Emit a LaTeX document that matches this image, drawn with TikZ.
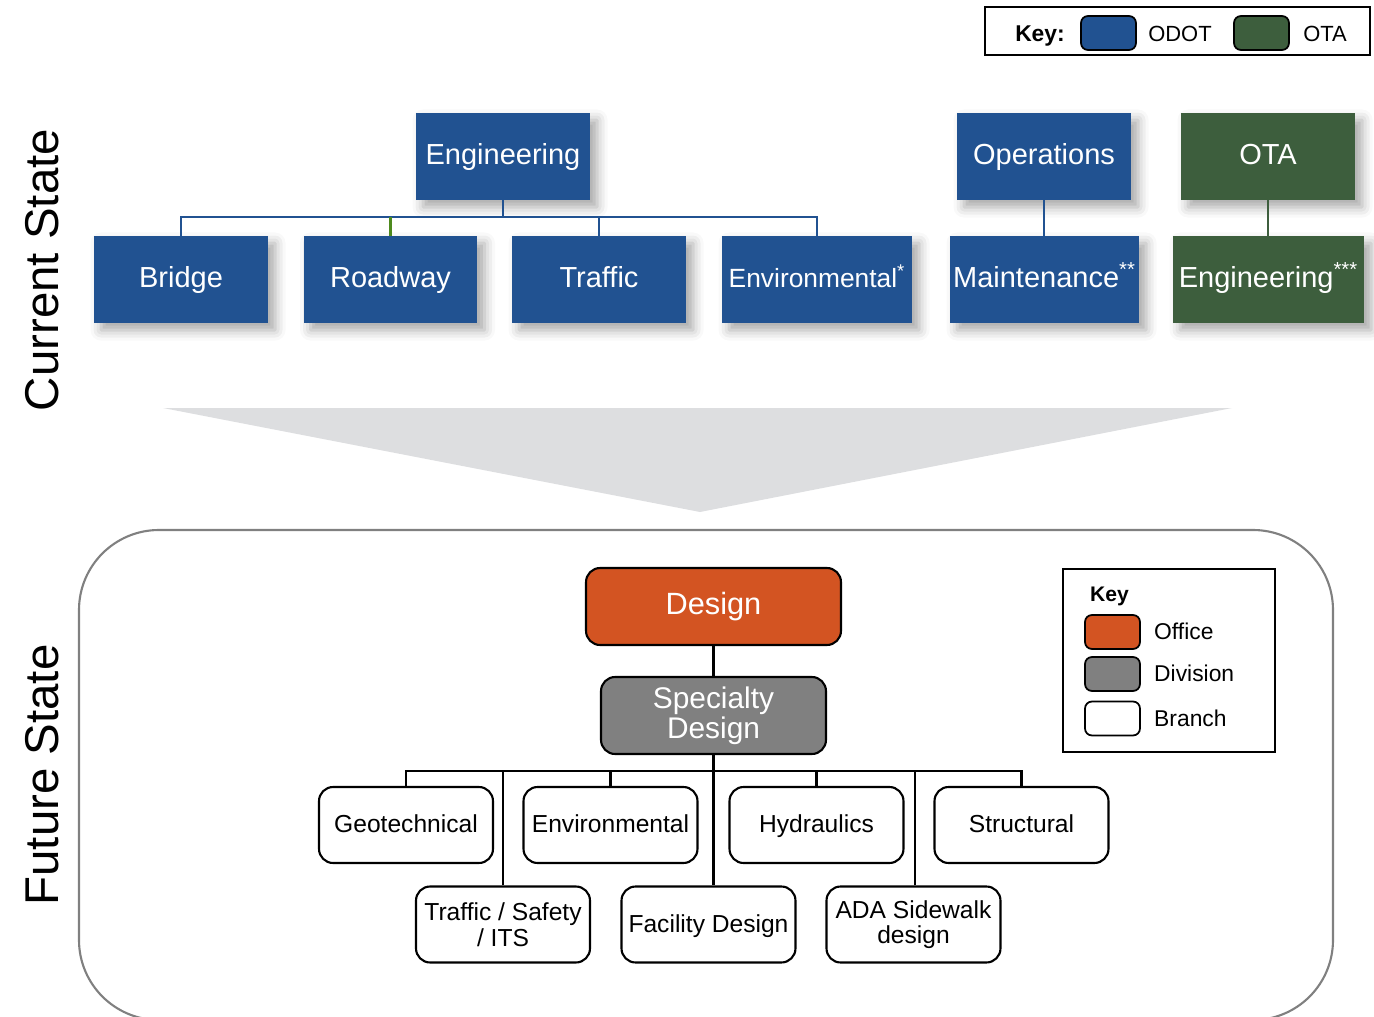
\documentclass[tikz,border=0pt]{standalone}
\usepackage{fontspec}
\setmainfont{Liberation Sans}
\usepackage{xcolor}
\usepackage{tikz}
\usetikzlibrary{positioning,calc,shadows.blur}

\definecolor{odotblue}{RGB}{33,82,145}
\definecolor{otagreen}{RGB}{61,94,61}
\definecolor{officeorange}{RGB}{211,84,34}
\definecolor{divgray}{RGB}{128,128,128}
\definecolor{funnelgray}{RGB}{221,222,224}
\definecolor{roadgreen}{RGB}{78,138,30}

\tikzset{
  oneline/.style={text height=2ex, text depth=0.35ex},
  unit/.style={oneline, minimum width=3.48cm, minimum height=1.74cm, text=white, inner sep=1pt,
    font=\fontsize{16.5}{19}\selectfont,
    blur shadow={shadow xshift=4pt, shadow yshift=-4pt, shadow blur radius=6pt, shadow opacity=35}},
  odot/.style={unit, fill=odotblue},
  ota/.style={unit, fill=otagreen},
  link/.style={odotblue, line width=1.2pt},
  tree/.style={black, line width=1.2pt},
  branchbox/.style={draw=black, fill=white, line width=1.2pt, rounded corners=8pt,
    minimum width=3.48cm, minimum height=1.52cm, align=center, inner sep=1pt,
    font=\fontsize{14}{14.5}\selectfont},
  swatch/.style={draw=black, line width=1pt, rounded corners=4pt,
    minimum width=1.1cm, minimum height=0.68cm},
}

\begin{document}
\begin{tikzpicture}[x=0.02cm, y=-0.02cm]
\useasboundingbox (0,0) rectangle (1374,1017);

% key for the current state
\node[draw, line width=1.2pt, minimum width=7.7cm, minimum height=0.96cm] (keytop) at (1177.5,31) {};
\node[oneline, font=\bfseries\fontsize{13}{15}\selectfont] (keyword) at (1040,34) {Key:};
\node[swatch, fill=odotblue] (swodot) at (1108.5,33) {};
\node[oneline, font=\fontsize{12.5}{15}\selectfont] (lodot) at (1180,34) {ODOT};
\node[swatch, fill=otagreen] (swota) at (1261.5,33) {};
\node[oneline, font=\fontsize{12.5}{15}\selectfont] (lota) at (1325,34) {OTA};

% current state
\node[rotate=90, font=\fontsize{27}{30}\selectfont] (cur) at (42,270) {Current State};
\node[odot] (eng) at (503,156.5) {Engineering};
\node[odot] (ops) at (1044,156.5) {Operations};
\node[ota] (ota) at (1268,156.5) {OTA};
\node[odot] (bridge) at (181,279.5) {Bridge};
\node[odot] (road) at (390.5,279.5) {Roadway};
\node[odot] (traffic) at (599,279.5) {Traffic};
\node[odot, minimum width=3.8cm, font=\fontsize{15}{18}\selectfont] (env) at (817,279.5) {Environmental\textsuperscript{*}};
\node[odot, minimum width=3.78cm] (maint) at (1044.5,279.5) {Maintenance\textsuperscript{**}};
\node[ota, minimum width=3.82cm] (otaeng) at (1268.5,279.5) {Engineering\textsuperscript{***}};

\coordinate (engbar) at (503,217);
\draw[link] (eng.south) -- (engbar);
\draw[link] (bridge.north) |- (env.north |- engbar) -- (env.north);
\draw[link] (traffic.north) -- (traffic.north |- engbar);
\draw[roadgreen, line width=1.2pt] (road.north) -- (road.north |- engbar);
\draw[link] (ops.south) -- (ops.south |- maint.north);
\draw[otagreen, line width=1.2pt] (ota.south) -- (ota.south |- otaeng.north);

% transition
\fill[funnelgray] (163,408) -- (1232,408) -- (700,512) -- cycle;

% future state
\draw[divgray, line width=1.2pt, rounded corners=1.6cm] (79,530) rectangle (1333,1020);
\node[rotate=90, font=\fontsize{27}{30}\selectfont] (fut) at (42,775) {Future State};

\node[oneline, draw=black, line width=1.2pt, rounded corners=8pt, fill=officeorange, text=white,
  minimum width=5.1cm, minimum height=1.54cm, font=\fontsize{17.5}{19}\selectfont] (design) at (713.5,606.5) {Design};
\node[draw=black, line width=1.2pt, rounded corners=8pt, fill=divgray, text=white, align=center,
  minimum width=4.5cm, minimum height=1.54cm, inner sep=1pt, font=\fontsize{17}{17}\selectfont] (spec) at (713.5,715.5) {Specialty\\Design};

\node[branchbox, oneline] (geo) at (406,825) {Geotechnical};
\node[branchbox, oneline] (envb) at (610.5,825) {Environmental};
\node[branchbox, oneline] (hyd) at (816.5,825) {Hydraulics};
\node[branchbox, oneline] (struct) at (1021.5,825) {Structural};
\node[branchbox] (traf) at (503,924.5) {Traffic / Safety\\/ ITS};
\node[branchbox, oneline] (fac) at (708.5,924.5) {Facility Design};
\node[branchbox] (ada) at (913.5,924.5) {ADA Sidewalk\\design};

\coordinate (bar) at (713,771);
\draw[tree] (design.south) -- (spec.north);
\draw[tree] (spec.south) -- (spec.south |- fac.north);
\draw[tree] (geo.north) |- (struct.north |- bar) -- (struct.north);
\draw[tree] (envb.north) -- (envb.north |- bar);
\draw[tree] (hyd.north) -- (hyd.north |- bar);
\draw[tree] (traf.north) -- (traf.north |- bar);
\draw[tree] (ada.north) ++(1.5,0) -- ($(ada.north |- bar)+(1.5,0)$);

% key for the future state
\node[draw, line width=1.1pt, minimum width=4.24cm, minimum height=3.66cm] (keybot) at (1169,660.5) {};
\node[anchor=west, oneline, font=\bfseries\fontsize{12}{14}\selectfont] (keyb) at (1084,594) {Key};
\node[swatch, fill=officeorange] (swoff) at (1112.5,632) {};
\node[swatch, fill=divgray] (swdiv) at (1112.5,674) {};
\node[swatch, fill=white] (swbr) at (1112.5,718.5) {};
\node[anchor=west, oneline, font=\fontsize{13}{15}\selectfont] (loff) at (1148,632) {Office};
\node[anchor=west, oneline, font=\fontsize{13}{15}\selectfont] (ldiv) at (1148,674) {Division};
\node[anchor=west, oneline, font=\fontsize{13}{15}\selectfont] (lbr) at (1148,719) {Branch};
\end{tikzpicture}
\end{document}
